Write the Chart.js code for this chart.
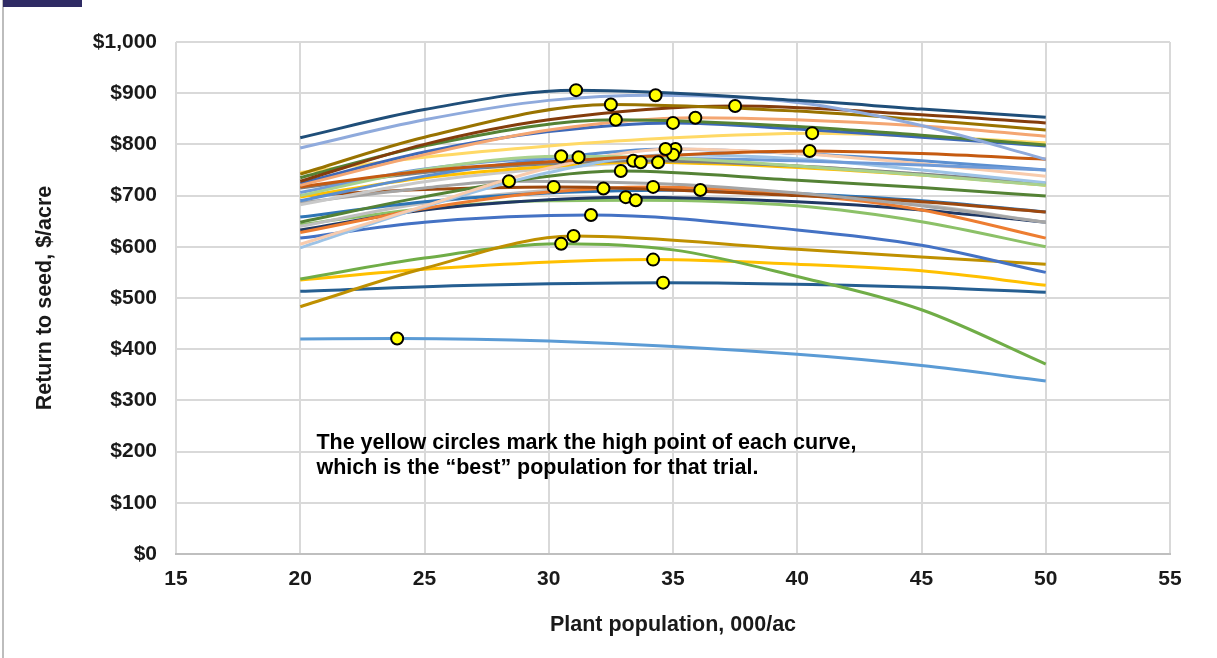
<!DOCTYPE html>
<html>
<head>
<meta charset="utf-8">
<script src="https://cdn.jsdelivr.net/npm/chart.js@4.4.1/dist/chart.umd.min.js"></script>
<style>
  body { margin: 0; background: #fff; }
  #wrap { position: relative; width: 1217px; height: 658px; }
  #chart { position: absolute; left: 0; top: 0; }
  #edge { position: absolute; left: 2px; top: 0; width: 2px; height: 658px; background: #BDBDBD; }
  #tab { position: absolute; left: 3px; top: 0; width: 79px; height: 7px; background: #2F2B64; }
</style>
</head>
<body>
<div id="wrap">
  <canvas id="chart" width="1217" height="658"></canvas>
  <div id="edge"></div>
  <div id="tab"></div>
</div>
<script>
// one colour per trial curve
const trialColors = [
  "#1F4E79", "#8FAADC", "#997300", "#843C0C", "#548235", "#F4A672",
  "#3D68B8", "#FFD966", "#C55A11", "#A9D18E", "#6F9BD8", "#F8CBAD",
  "#9DC3E6", "#5B8FD0", "#7F7F7F", "#FFC000", "#C9C9C9", "#548235",
  "#A5A5A5", "#9E480E", "#ED7D31", "#2E75B6", "#BFBFBF", "#203864",
  "#8CC168", "#4472C4", "#BF9000", "#70AD47", "#FFC000", "#255E91",
  "#5B9BD5"
];

// [plant population, return]
const trialPoints = [
  [[20, 813], [25, 868], [31.1, 906], [40, 886], [45, 869], [50, 853]],
  [[20, 793], [25, 848], [30, 886], [34.3, 896], [40, 882], [45, 837], [50, 771]],
  [[20, 742], [25, 814], [32.5, 878], [40, 865], [45, 848], [50, 828]],
  [[20, 728], [25, 800], [30, 848], [37.5, 875], [45, 858], [50, 842]],
  [[20, 735], [25, 797], [32.7, 848], [40, 835], [45, 818], [50, 799]],
  [[20, 720], [25, 780], [30, 828], [35.9, 852], [45, 836], [50, 816]],
  [[20, 724], [25, 785], [30, 825], [35, 842], [40, 830], [45, 814], [50, 797]],
  [[20, 745], [25, 775], [30, 797], [35, 813], [40.6, 822], [45, 816], [50, 803]],
  [[20, 717], [25, 748], [30, 766], [35, 779], [40.5, 787], [45, 782], [50, 771]],
  [[20, 700], [25, 751], [30.5, 777], [35, 773], [40, 758], [45, 740], [50, 720]],
  [[20, 706], [25, 752], [31.2, 775], [40, 768], [45, 760], [50, 750]],
  [[20, 605], [25, 680], [30, 754], [35.1, 791], [40, 782], [45, 762], [50, 738]],
  [[20, 598], [25, 678], [30, 745], [35, 780], [40, 772], [45, 750], [50, 725]],
  [[20, 690], [25, 738], [30, 772], [34.7, 791], [40, 782], [45, 768], [50, 750]],
  [[20, 715], [25, 745], [30, 762], [33.4, 768], [40, 758], [45, 742], [50, 724]],
  [[20, 697], [25, 735], [30, 757], [33.7, 765], [40, 755], [45, 740], [50, 720]],
  [[20, 682], [25, 727], [30, 753], [34.4, 765], [40, 758], [45, 742], [50, 722]],
  [[20, 648], [25, 698], [30, 738], [32.9, 748], [40, 730], [45, 716], [50, 699]],
  [[20, 686], [25, 715], [28.4, 728], [35, 722], [40, 705], [45, 680], [50, 648]],
  [[20, 700], [25, 712], [30.2, 717], [40, 700], [45, 688], [50, 668]],
  [[20, 628], [25, 675], [30, 707], [34.2, 717], [40, 702], [45, 672], [50, 617]],
  [[20, 658], [25, 688], [30, 705], [36.1, 711], [40, 704], [45, 690], [50, 668]],
  [[20, 640], [25, 685], [32.2, 714], [40, 702], [45, 682], [50, 648]],
  [[20, 633], [25, 672], [30, 692], [33.1, 697], [40, 688], [45, 672], [50, 648]],
  [[20, 643], [25, 675], [30, 690], [33.5, 691], [40, 680], [45, 649], [50, 600]],
  [[20, 617], [25, 648], [31.7, 662], [40, 633], [45, 603], [50, 550]],
  [[20, 483], [25, 558], [31, 621], [40, 595], [45, 580], [50, 566]],
  [[20, 537], [25, 578], [30.5, 606], [35, 594], [40, 542], [45, 477], [50, 371]],
  [[20, 535], [25, 556], [34.2, 575], [40, 566], [45, 553], [50, 525]],
  [[20, 513], [27, 525], [34.6, 530], [45, 521], [50, 511]],
  [[20, 420], [23.9, 421], [30, 416], [40, 390], [45, 368], [50, 338]]
];

// high point of each curve (the yellow circles)
const peakX = [31.1, 34.3, 32.5, 37.5, 32.7, 35.9, 35, 40.6, 40.5, 30.5, 31.2,
  35.1, 35, 34.7, 33.4, 33.7, 34.4, 32.9, 28.4, 30.2, 34.2, 36.1, 32.2, 33.1,
  33.5, 31.7, 31, 30.5, 34.2, 34.6, 23.9];
const peakY = [906, 896, 878, 875, 848, 852, 842, 822, 787, 777, 775,
  791, 780, 791, 768, 765, 765, 748, 728, 717, 717, 711, 714, 697,
  691, 662, 621, 606, 575, 530, 421];

const noteLines = [
  "The yellow circles mark the high point of each curve,",
  "which is the \u201cbest\u201d population for that trial."
];

Chart.defaults.font.family = '"Liberation Sans", Arial, sans-serif';
Chart.defaults.font.weight = "bold";
Chart.defaults.color = "#1a1a1a";

const datasets = trialPoints.map((pts, i) => ({
  data: pts.map(p => ({ x: p[0], y: p[1] })),
  showLine: true,
  borderColor: trialColors[i],
  borderWidth: 3,
  pointRadius: 0,
  cubicInterpolationMode: "monotone",
  order: 1
}));

datasets.push({
  data: peakX.map((x, i) => ({ x: x, y: peakY[i] })),
  backgroundColor: "#FFFF00",
  borderColor: "#000000",
  borderWidth: 2,
  pointRadius: 6,
  order: 0
});

// the text box inside the plot
const notePlugin = {
  id: "note",
  afterDatasetsDraw(chart) {
    const { ctx, scales } = chart;
    const left = scales.x.getPixelForValue(20.65);
    const top = scales.y.getPixelForValue(216);
    ctx.save();
    ctx.font = 'bold 21.5px "Liberation Sans", Arial, sans-serif';
    ctx.fillStyle = "#000";
    ctx.textBaseline = "middle";
    noteLines.forEach((t, i) => ctx.fillText(t, left, top + i * 25));
    ctx.restore();
  }
};

new Chart(document.getElementById("chart").getContext("2d"), {
  type: "scatter",
  data: { datasets: datasets },
  plugins: [notePlugin],
  options: {
    responsive: false,
    animation: false,
    devicePixelRatio: 1,
    layout: { padding: { top: 42, right: 47, left: 0, bottom: 0 } },
    plugins: {
      legend: { display: false },
      tooltip: { enabled: false }
    },
    scales: {
      x: {
        type: "linear",
        min: 15,
        max: 55,
        afterFit: s => { s.height = 104; },
        ticks: { stepSize: 5, padding: 13, font: { size: 21 } },
        grid: { color: "#D9D9D9", lineWidth: 2, drawTicks: false },
        border: { display: true, color: "#BFBFBF", width: 2 },
        title: {
          display: true,
          text: "Plant population, 000/ac",
          font: { size: 21.5 },
          padding: { top: 0, bottom: 20 }
        }
      },
      y: {
        min: 0,
        max: 1000,
        afterFit: s => { s.width = 176; },
        ticks: {
          stepSize: 100,
          padding: 19,
          font: { size: 21 },
          callback: v => "$" + v.toLocaleString("en-US")
        },
        grid: { color: "#D9D9D9", lineWidth: 2, drawTicks: false },
        border: { display: false },
        title: {
          display: true,
          text: "Return to seed, $/acre",
          font: { size: 21.5 },
          padding: { top: 32, bottom: 0 }
        }
      }
    }
  }
});
</script>
</body>
</html>
